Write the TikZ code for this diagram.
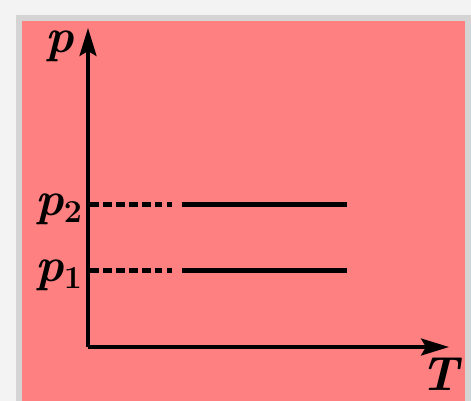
\documentclass[tikz,border=0pt]{standalone}
\usetikzlibrary{arrows.meta}
\definecolor{pinkbg}{RGB}{255,128,128}
\definecolor{framegray}{RGB}{212,212,212}
\definecolor{outerbg}{RGB}{243,243,243}
\newcommand{\subdigit}[1]{\raisebox{-7pt}{\fontsize{32}{32}\selectfont\upshape #1}}
\begin{document}
\begin{tikzpicture}[x=1pt,y=-1pt,
  axis/.style={line width=3.5pt,-{Stealth[length=28pt,width=17pt,inset=5pt]}},
  isobar/.style={line width=5pt},
  dashpart/.style={line width=5pt,dash pattern=on 9pt off 4pt},
  lab/.style={font=\fontsize{48}{54}\selectfont\bfseries\itshape,inner sep=0pt}]
\useasboundingbox (0,0) rectangle (471,401);
\fill[outerbg] (0,0) rectangle (471,401);
\fill[framegray] (16,15) rectangle (471,401);
\fill[pinkbg] (22,21) rectangle (465,401);
% axes
\coordinate (O) at (88,347);
\coordinate (Ptip) at (88,28);
\coordinate (Ttip) at (449,347);
\draw[axis] (O) -- (Ptip);
\draw[axis] (O) -- (Ttip);
\node[lab] (plab) at (60,46) {p};
\node[lab] (tlab) at (440,374) {T};
% p2
\coordinate (a2) at (90,204);
\coordinate (b2) at (162,204);
\coordinate (c2) at (167,204);
\coordinate (d2) at (172,204);
\coordinate (e2) at (182,204);
\coordinate (f2) at (347,204);
\draw[dashpart] (a2) -- (b2);
\draw[isobar] (c2) -- (d2);
\draw[isobar] (e2) -- (f2);
\node[lab,anchor=east] (p2lab) at (82,209) {p\subdigit{2}};
% p1
\coordinate (a1) at (90,270);
\coordinate (b1) at (162,270);
\coordinate (c1) at (167,270);
\coordinate (d1) at (172,270);
\coordinate (e1) at (182,270);
\coordinate (f1) at (347,270);
\draw[dashpart] (a1) -- (b1);
\draw[isobar] (c1) -- (d1);
\draw[isobar] (e1) -- (f1);
\node[lab,anchor=east] (p1lab) at (82,275) {p\subdigit{1}};
\end{tikzpicture}
\end{document}
